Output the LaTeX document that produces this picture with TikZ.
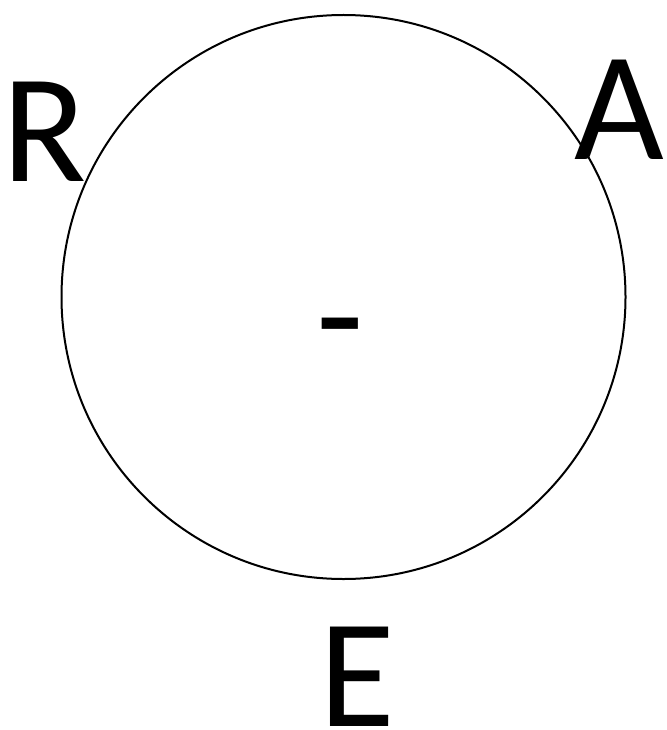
\documentclass[tikz,border=0pt]{standalone}
\usepackage{fontspec}
\setmainfont{Carlito}
\usepackage{tikz}
\usetikzlibrary{positioning}

\tikzset{
  letter/.style={inner sep=0pt, anchor=base, font=\fontsize{155}{155}\selectfont},
}

\begin{document}
\begin{tikzpicture}[x=1pt,y=-1pt]
\useasboundingbox (0,0) rectangle (666,730);

% ring
\node[draw, line width=2pt, circle, minimum size=564pt, inner sep=0pt] (ring) at (343.5,297) {};

% letters round the ring
\node[letter] (r) at (44.5,182) {R};
\node[letter] (a) at (619,160) {A};
\node[letter] (e) at (357.5,726) {E};

% sign in the middle
\node[inner sep=0pt, anchor=north, font=\fontsize{155}{155}\selectfont] (sign) at (340.5,318) {-};

\end{tikzpicture}
\end{document}
